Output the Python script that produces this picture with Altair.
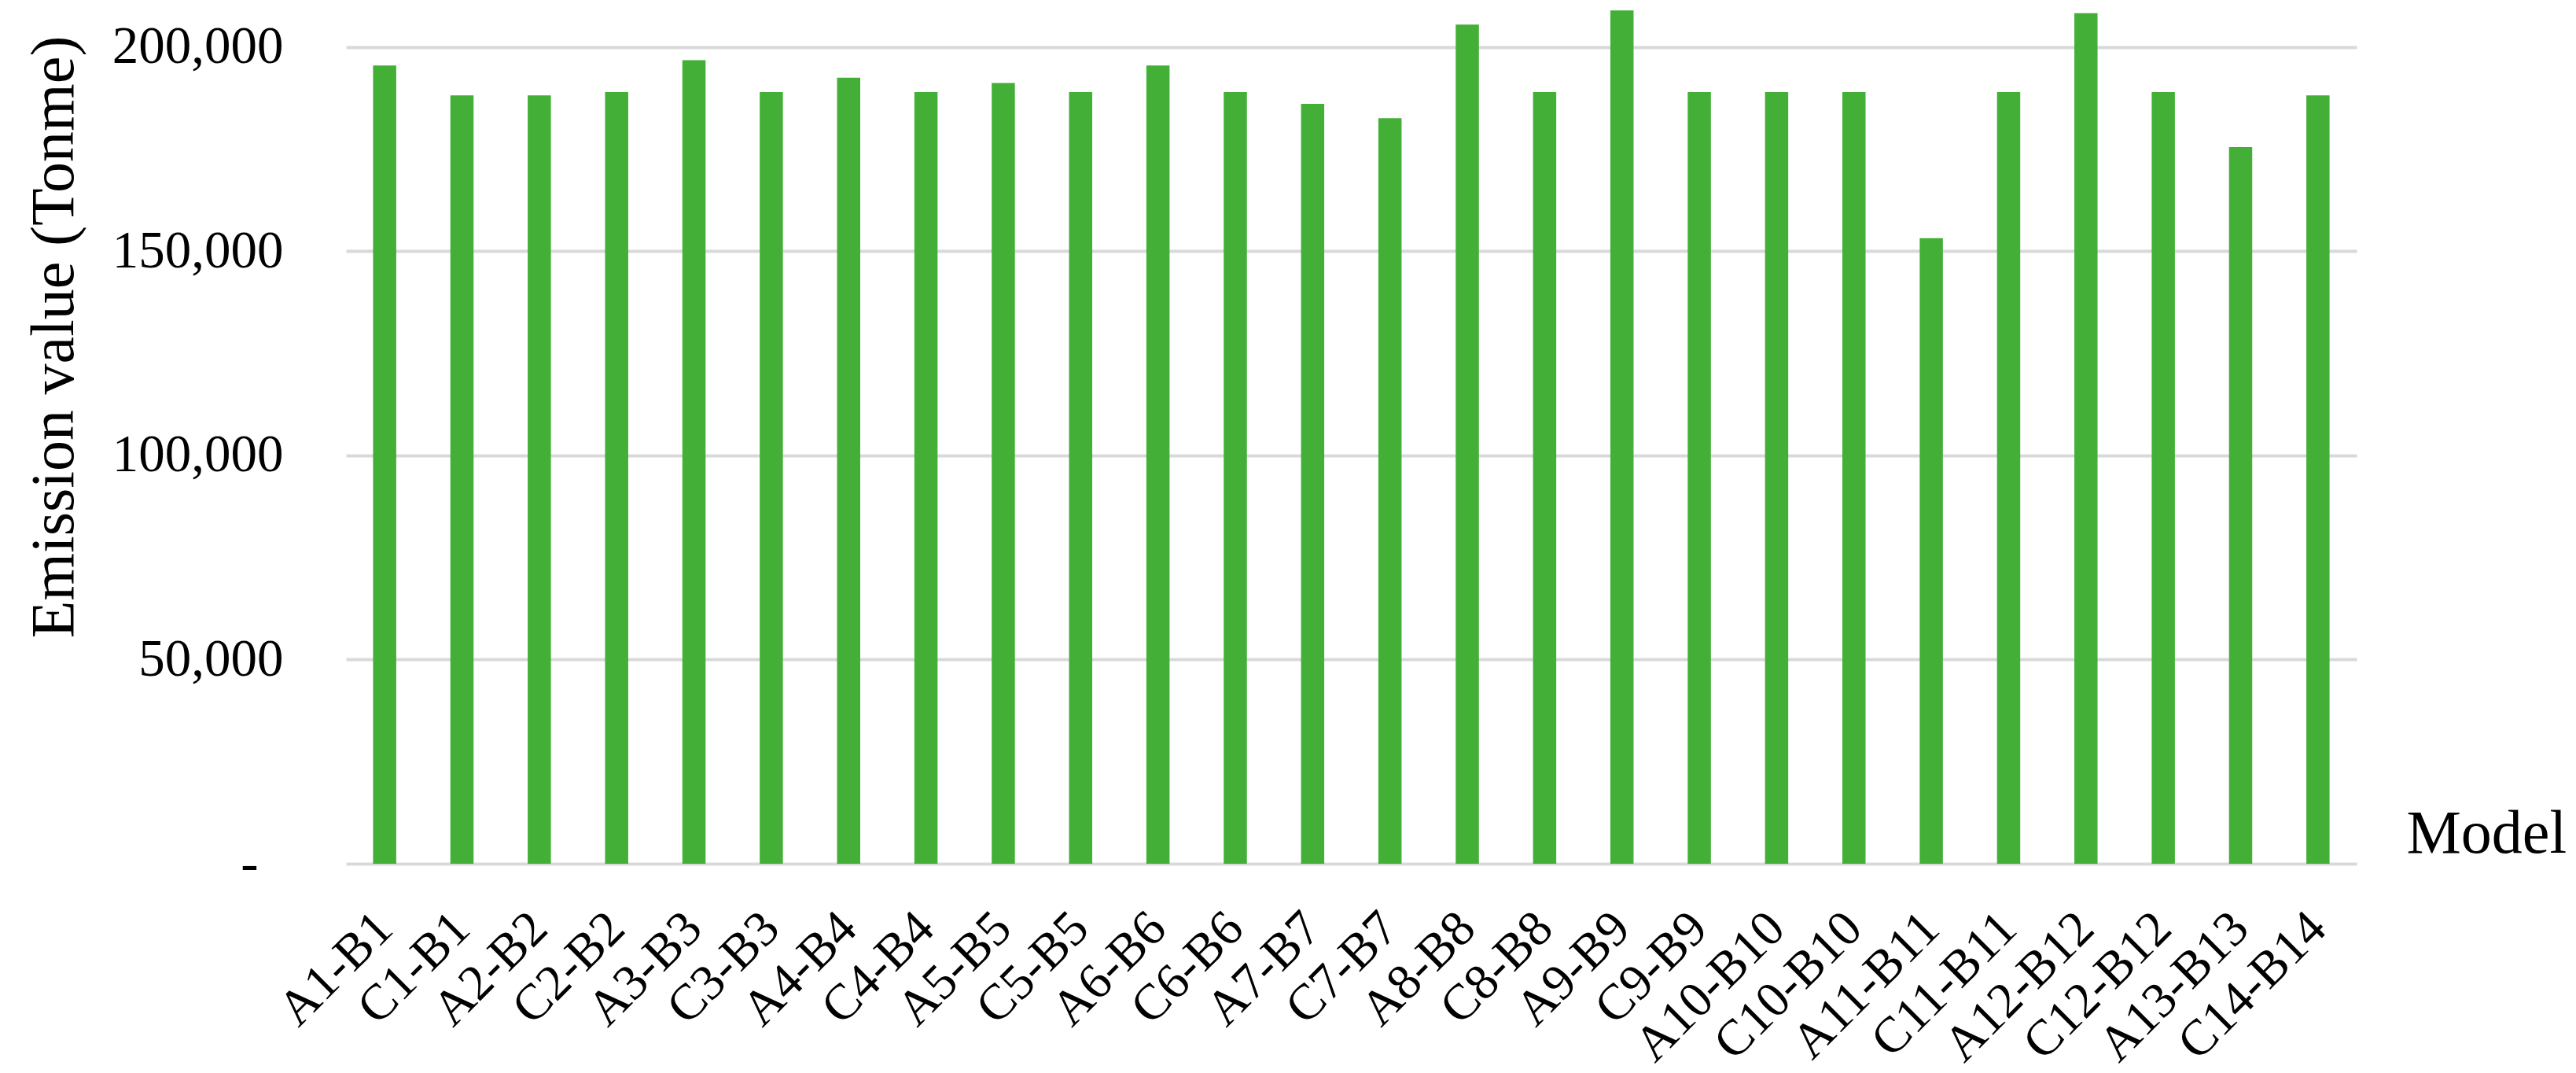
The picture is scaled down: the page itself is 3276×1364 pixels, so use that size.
import altair as alt
import pandas as pd

models = ["A1-B1", "C1-B1", "A2-B2", "C2-B2", "A3-B3", "C3-B3", "A4-B4", "C4-B4",
          "A5-B5", "C5-B5", "A6-B6", "C6-B6", "A7-B7", "C7-B7", "A8-B8", "C8-B8",
          "A9-B9", "C9-B9", "A10-B10", "C10-B10", "A11-B11", "C11-B11", "A12-B12",
          "C12-B12", "A13-B13", "C14-B14"]
emissions = [195500, 188200, 188200, 189000, 196800, 189000, 192500, 189000,
             191200, 189000, 195500, 189000, 186100, 182600, 205500, 189000,
             209000, 189000, 189000, 189000, 153200, 189000, 208300, 189000,
             175500, 188200]
y_ticks = [0, 50000, 100000, 150000, 200000]

df = pd.DataFrame({"Model": models, "Emission": emissions})

FONT = "Liberation Serif"

chart = alt.Chart(df).mark_bar(color="#43AF37").encode(
    x=alt.X(
        "Model:N",
        sort=models,
        scale=alt.Scale(paddingInner=0.7, paddingOuter=0.35),
        axis=alt.Axis(
            title="Model",
            titleFont=FONT,
            titleFontSize=78,
            titleFontWeight="normal",
            titleColor="#000000",
            titleAngle=0,
            titleAlign="left",
            titleBaseline="alphabetic",
            titleX=2620,
            titleY=-15,
            labelFont=FONT,
            labelFontSize=64,
            labelColor="#000000",
            labelAngle=-45,
            labelAlign="right",
            labelBaseline="middle",
            labelPadding=72,
            labelLimit=0,
            labelOverlap=False,
            ticks=False,
            domain=False,
            grid=False,
        ),
    ),
    y=alt.Y(
        "Emission:Q",
        scale=alt.Scale(domain=[0, 210000], nice=False),
        axis=alt.Axis(
            title="Emission value (Tonme)",
            titleFont=FONT,
            titleFontSize=78,
            titleFontWeight="normal",
            titleColor="#000000",
            titleAngle=-90,
            titleAlign="center",
            titleBaseline="alphabetic",
            titleX=-348,
            titleY=420,
            values=y_ticks,
            labelExpr="datum.value == 0 ? '-' : format(datum.value, ',')",
            labelFont=FONT,
            labelFontSize=67,
            labelColor="#000000",
            labelPadding={"condition": {"test": "datum.value == 0", "value": 112}, "value": 80},
            labelBaseline="middle",
            labelLimit=0,
            labelOverlap=False,
            ticks=False,
            domain=False,
            grid=True,
            gridColor="#d9d9d9",
            gridWidth=4,
        ),
    ),
).properties(
    width=2557,
    height=1090,
    autosize=alt.AutoSizeParams(type="none"),
    padding={"left": 432, "top": 0, "right": 270, "bottom": 266},
    background="white",
).configure_view(stroke=None)

chart.save("out.html", embed_options={"renderer": "svg", "actions": False})
